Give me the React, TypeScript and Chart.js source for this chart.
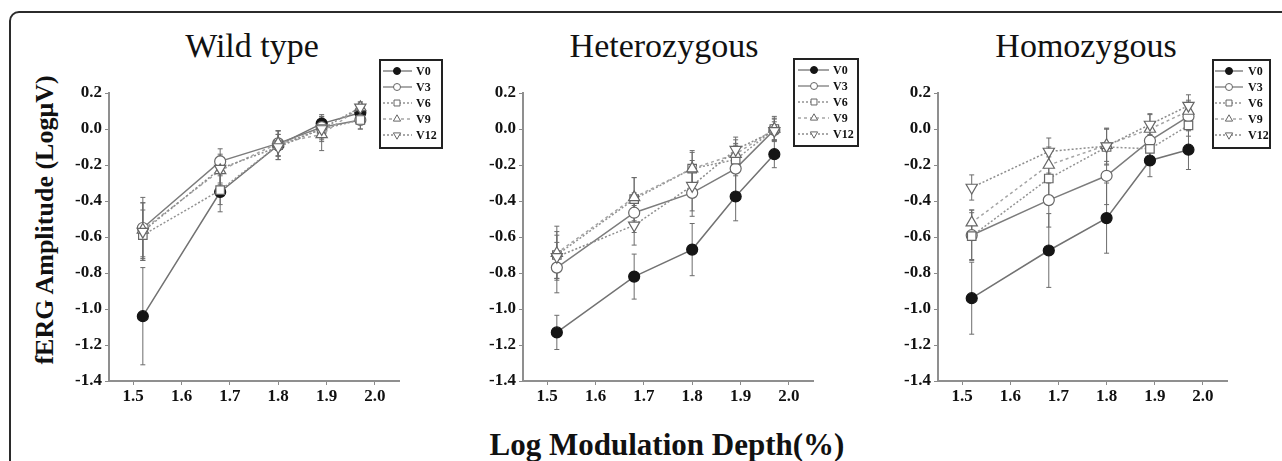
import React, { useEffect, useRef } from "react";
import { Chart, registerables } from "chart.js";

Chart.register(...registerables);

// ---------- data ----------
const modulationDepth = [1.52, 1.68, 1.8, 1.89, 1.97];
const seriesLabels = ["V0", "V3", "V6", "V9", "V12"];
const xTickValues = [1.5, 1.6, 1.7, 1.8, 1.9, 2.0];
const yTickValues = [0.2, 0.0, -0.2, -0.4, -0.6, -0.8, -1.0, -1.2, -1.4];
const panelTitles = ["Wild type", "Heterozygous", "Homozygous"];

// Wild type
const wildV0 = [-1.04, -0.35, -0.09, 0.03, 0.09];
const wildV0Err = [0.27, 0.11, 0.08, 0.05, 0.05];
const wildV3 = [-0.55, -0.18, -0.08, 0.01, 0.05];
const wildV3Err = [0.17, 0.07, 0.07, 0.06, 0.05];
const wildV6 = [-0.59, -0.34, -0.09, 0.0, 0.05];
const wildV6Err = [0.14, 0.08, 0.06, 0.06, 0.05];
const wildV9 = [-0.56, -0.23, -0.08, -0.03, 0.12];
const wildV9Err = [0.15, 0.08, 0.07, 0.09, 0.03];
const wildV12 = [-0.57, -0.22, -0.1, 0.0, 0.12];
const wildV12Err = [0.16, 0.08, 0.07, 0.07, 0.03];

// Heterozygous
const hetV0 = [-1.13, -0.82, -0.67, -0.375, -0.14];
const hetV0Err = [0.095, 0.125, 0.145, 0.135, 0.075];
const hetV3 = [-0.77, -0.465, -0.355, -0.22, -0.005];
const hetV3Err = [0.14, 0.11, 0.13, 0.13, 0.06];
const hetV6 = [-0.7, -0.39, -0.22, -0.17, 0.0];
const hetV6Err = [0.13, 0.12, 0.1, 0.09, 0.06];
const hetV9 = [-0.69, -0.38, -0.22, -0.14, 0.0];
const hetV9Err = [0.15, 0.11, 0.09, 0.08, 0.07];
const hetV12 = [-0.71, -0.535, -0.315, -0.115, -0.01];
const hetV12Err = [0.12, 0.11, 0.14, 0.07, 0.05];

// Homozygous
const homV0 = [-0.94, -0.675, -0.495, -0.175, -0.115];
const homV0Err = [0.2, 0.205, 0.195, 0.09, 0.11];
const homV3 = [-0.59, -0.395, -0.26, -0.065, 0.07];
const homV3Err = [0.14, 0.15, 0.16, 0.1, 0.08];
const homV6 = [-0.595, -0.275, -0.1, -0.11, 0.02];
const homV6Err = [0.13, 0.12, 0.1, 0.08, 0.06];
const homV9 = [-0.52, -0.2, -0.09, 0.0, 0.1];
const homV9Err = [0.07, 0.1, 0.09, 0.08, 0.06];
const homV12 = [-0.325, -0.125, -0.095, 0.025, 0.13];
const homV12Err = [0.07, 0.075, 0.1, 0.06, 0.06];

const panelMeans = [
  [wildV0, wildV3, wildV6, wildV9, wildV12],
  [hetV0, hetV3, hetV6, hetV9, hetV12],
  [homV0, homV3, homV6, homV9, homV12],
];
const panelErrors = [
  [wildV0Err, wildV3Err, wildV6Err, wildV9Err, wildV12Err],
  [hetV0Err, hetV3Err, hetV6Err, hetV9Err, hetV12Err],
  [homV0Err, homV3Err, homV6Err, homV9Err, homV12Err],
];

// ---------- styles / layout ----------
const SERIF = "'Liberation Serif', 'Times New Roman', serif";

const seriesStyles = [
  { line: "#727272", dash: [] as number[], width: 1.5, marker: "circle", radius: 5.5, fill: "#151515", stroke: "#151515", rot: 0 },
  { line: "#7c7c7c", dash: [] as number[], width: 1.5, marker: "circle", radius: 5.5, fill: "#ffffff", stroke: "#666666", rot: 0 },
  { line: "#939393", dash: [2, 2], width: 1.5, marker: "rect", radius: 6, fill: "#ffffff", stroke: "#666666", rot: 0 },
  { line: "#a5a5a5", dash: [3, 3], width: 1.5, marker: "triangle", radius: 6.5, fill: "#ffffff", stroke: "#666666", rot: 0 },
  { line: "#8c8c8c", dash: [2, 2], width: 1.5, marker: "triangle", radius: 6.5, fill: "#ffffff", stroke: "#666666", rot: 180 },
];

const CANVAS_TOP = 50;
const CANVAS_H = 370;
const Y_AXIS_W = 50;
const X_AXIS_H = 39;
const PAD_LEFT = 19;
const PAD_TOP = 43;

const panelLayout = [
  { plotLeft: 109, plotWidth: 290, titleCenter: 252, legend: { x: 380, y: 60, w: 62, h: 88, lineFrom: 3, lineTo: 32, markX: 17, textX: 36 } },
  { plotLeft: 523, plotWidth: 290, titleCenter: 664, legend: { x: 794, y: 59, w: 64, h: 87, lineFrom: 4, lineTo: 35, markX: 20, textX: 39 } },
  { plotLeft: 938, plotWidth: 289, titleCenter: 1086, legend: { x: 1213, y: 60, w: 57, h: 88, lineFrom: 2, lineTo: 30, markX: 16, textX: 35 } },
];

function drawMarker(ctx: CanvasRenderingContext2D, kind: string, rot: number, x: number, y: number, r: number, fill: string, stroke: string, lw: number) {
  ctx.save();
  ctx.setLineDash([]);
  ctx.beginPath();
  if (kind === "circle") {
    ctx.arc(x, y, r, 0, Math.PI * 2);
  } else if (kind === "rect") {
    const s = r * Math.SQRT1_2;
    ctx.rect(x - s, y - s, 2 * s, 2 * s);
  } else {
    let a = (rot * Math.PI) / 180;
    ctx.moveTo(x + Math.sin(a) * r, y - Math.cos(a) * r);
    a += (2 * Math.PI) / 3;
    ctx.lineTo(x + Math.sin(a) * r, y - Math.cos(a) * r);
    a += (2 * Math.PI) / 3;
    ctx.lineTo(x + Math.sin(a) * r, y - Math.cos(a) * r);
  }
  ctx.closePath();
  ctx.fillStyle = fill;
  ctx.fill();
  ctx.lineWidth = lw;
  ctx.strokeStyle = stroke;
  ctx.stroke();
  ctx.restore();
}

const errorBarPlugin = {
  id: "errorBars",
  beforeDatasetsDraw(chart: any) {
    const { ctx } = chart;
    const yScale = chart.scales.y;
    ctx.save();
    ctx.setLineDash([]);
    ctx.strokeStyle = "#6c6c6c";
    ctx.lineWidth = 1;
    chart.data.datasets.forEach((ds: any, di: number) => {
      const meta = chart.getDatasetMeta(di);
      const errs: number[] = ds.errors || [];
      meta.data.forEach((pt: any, i: number) => {
        const v = ds.data[i].y;
        const e = errs[i] || 0;
        const top = yScale.getPixelForValue(v + e);
        const bot = yScale.getPixelForValue(v - e);
        ctx.beginPath();
        ctx.moveTo(pt.x, top);
        ctx.lineTo(pt.x, bot);
        ctx.moveTo(pt.x - 2.5, top);
        ctx.lineTo(pt.x + 2.5, top);
        ctx.moveTo(pt.x - 2.5, bot);
        ctx.lineTo(pt.x + 2.5, bot);
        ctx.stroke();
      });
    });
    ctx.restore();
  },
};

const boxLegendPlugin = {
  id: "boxLegend",
  afterDraw(chart: any, _args: any, opts: any) {
    const { ctx } = chart;
    const left = opts.left;
    const top = opts.top;
    ctx.save();
    ctx.fillStyle = "#ffffff";
    ctx.fillRect(left, top, opts.w, opts.h);
    ctx.setLineDash([]);
    ctx.lineWidth = 2;
    ctx.strokeStyle = "#222222";
    ctx.strokeRect(left, top, opts.w, opts.h);
    seriesLabels.forEach((name, s) => {
      const st = seriesStyles[s];
      const yRow = top + 11 + 16 * s;
      ctx.save();
      ctx.setLineDash(st.dash);
      ctx.strokeStyle = st.line;
      ctx.lineWidth = 1.3;
      ctx.beginPath();
      ctx.moveTo(left + opts.lineFrom, yRow);
      ctx.lineTo(left + opts.lineTo, yRow);
      ctx.stroke();
      ctx.restore();
      drawMarker(ctx, st.marker, st.rot, left + opts.markX, yRow, st.marker === "circle" ? 3.5 : 4.2, st.fill, st.stroke, 1);
      ctx.fillStyle = "#111111";
      ctx.font = `bold 12px ${SERIF}`;
      ctx.textBaseline = "middle";
      ctx.textAlign = "left";
      ctx.fillText(name, left + opts.textX, yRow + 0.5);
    });
    ctx.restore();
  },
};

const tickFont = { family: SERIF, weight: "bold" as const, size: 17 };

function Panel({ idx }: { idx: number }) {
  const ref = useRef<HTMLCanvasElement>(null);
  const lay = panelLayout[idx];
  const canvasLeft = lay.plotLeft - PAD_LEFT - Y_AXIS_W;
  const canvasW = lay.legend.x + lay.legend.w + 6 - canvasLeft;
  const padRight = canvasW - PAD_LEFT - Y_AXIS_W - lay.plotWidth;

  useEffect(() => {
    const canvas = ref.current;
    if (!canvas) return;
    const means = panelMeans[idx];
    const errs = panelErrors[idx];
    const chart = new Chart(canvas, {
      type: "line",
      data: {
        datasets: seriesLabels.map((name, s) => {
          const st = seriesStyles[s];
          return {
            label: name,
            data: modulationDepth.map((x, i) => ({ x, y: means[s][i] })),
            errors: errs[s],
            order: seriesLabels.length - s,
            borderColor: st.line,
            borderWidth: st.width,
            borderDash: st.dash,
            pointStyle: st.marker,
            pointRadius: st.radius,
            pointRotation: st.rot,
            pointBackgroundColor: st.fill,
            pointBorderColor: st.stroke,
            pointBorderWidth: 1.2,
            tension: 0,
            fill: false,
            clip: false,
          } as any;
        }),
      },
      options: {
        responsive: false,
        animation: false,
        devicePixelRatio: 1,
        events: [],
        layout: { padding: { left: PAD_LEFT, right: padRight, top: PAD_TOP, bottom: 0 } },
        plugins: {
          legend: { display: false },
          title: { display: false },
          tooltip: { enabled: false },
          boxLegend: {
            left: lay.legend.x - canvasLeft,
            top: lay.legend.y - CANVAS_TOP,
            w: lay.legend.w,
            h: lay.legend.h,
            lineFrom: lay.legend.lineFrom,
            lineTo: lay.legend.lineTo,
            markX: lay.legend.markX,
            textX: lay.legend.textX,
          },
        } as any,
        scales: {
          x: {
            type: "linear",
            min: 1.45,
            max: 2.05,
            afterFit: (s: any) => {
              s.height = X_AXIS_H;
            },
            afterBuildTicks: (s: any) => {
              s.ticks = xTickValues.map((v) => ({ value: v }));
            },
            ticks: {
              callback: (v: any) => Number(v).toFixed(1),
              color: "#111111",
              font: tickFont,
              padding: 1,
              maxRotation: 0,
              autoSkip: false,
            },
            grid: { display: true, drawOnChartArea: false, drawTicks: true, tickLength: 4, color: "#8a8a8a", lineWidth: 1 },
            border: { display: true, color: "#8f8f8f", width: 2 },
          },
          y: {
            type: "linear",
            min: -1.4,
            max: 0.2,
            afterFit: (s: any) => {
              s.width = Y_AXIS_W;
            },
            afterBuildTicks: (s: any) => {
              s.ticks = yTickValues.map((v) => ({ value: v }));
            },
            ticks: {
              callback: (v: any) => Number(v).toFixed(1),
              color: "#111111",
              font: tickFont,
              padding: 3,
              autoSkip: false,
            },
            grid: { display: true, drawOnChartArea: false, drawTicks: true, tickLength: 4, color: "#8a8a8a", lineWidth: 1 },
            border: { display: true, color: "#8f8f8f", width: 2 },
          },
        },
      } as any,
      plugins: [errorBarPlugin, boxLegendPlugin] as any,
    });
    return () => chart.destroy();
  }, [idx]);

  return (
    <canvas
      ref={ref}
      width={canvasW}
      height={CANVAS_H}
      style={{ position: "absolute", left: canvasLeft, top: CANVAS_TOP, width: canvasW, height: CANVAS_H }}
    />
  );
}

export default function App() {
  return (
    <div
      style={{
        position: "absolute",
        left: 0,
        top: 0,
        width: 1282,
        height: 461,
        overflow: "hidden",
        background: "#ffffff",
        fontFamily: SERIF,
        color: "#111111",
      }}
    >
      <div
        style={{
          position: "absolute",
          left: 9,
          top: 11,
          width: 1320,
          height: 520,
          border: "2px solid #2b2b2b",
          borderTopLeftRadius: 10,
          boxSizing: "border-box",
        }}
      />
      {panelTitles.map((t, i) => (
        <div
          key={t}
          style={{
            position: "absolute",
            left: panelLayout[i].titleCenter - 150,
            width: 300,
            top: 29,
            textAlign: "center",
            fontSize: 34,
            lineHeight: "34px",
            whiteSpace: "nowrap",
          }}
        >
          {t}
        </div>
      ))}
      <div
        style={{
          position: "absolute",
          left: 45,
          top: 220,
          transform: "translate(-50%, -50%) rotate(-90deg)",
          fontSize: 26,
          fontWeight: "bold",
          lineHeight: "26px",
          whiteSpace: "nowrap",
        }}
      >
        fERG Amplitude (LogμV)
      </div>
      <div
        style={{
          position: "absolute",
          left: 667 - 300,
          width: 600,
          top: 429,
          textAlign: "center",
          fontSize: 31,
          fontWeight: "bold",
          lineHeight: "31px",
          whiteSpace: "nowrap",
        }}
      >
        Log Modulation Depth(%)
      </div>
      {panelTitles.map((t, i) => (
        <Panel key={t} idx={i} />
      ))}
    </div>
  );
}
